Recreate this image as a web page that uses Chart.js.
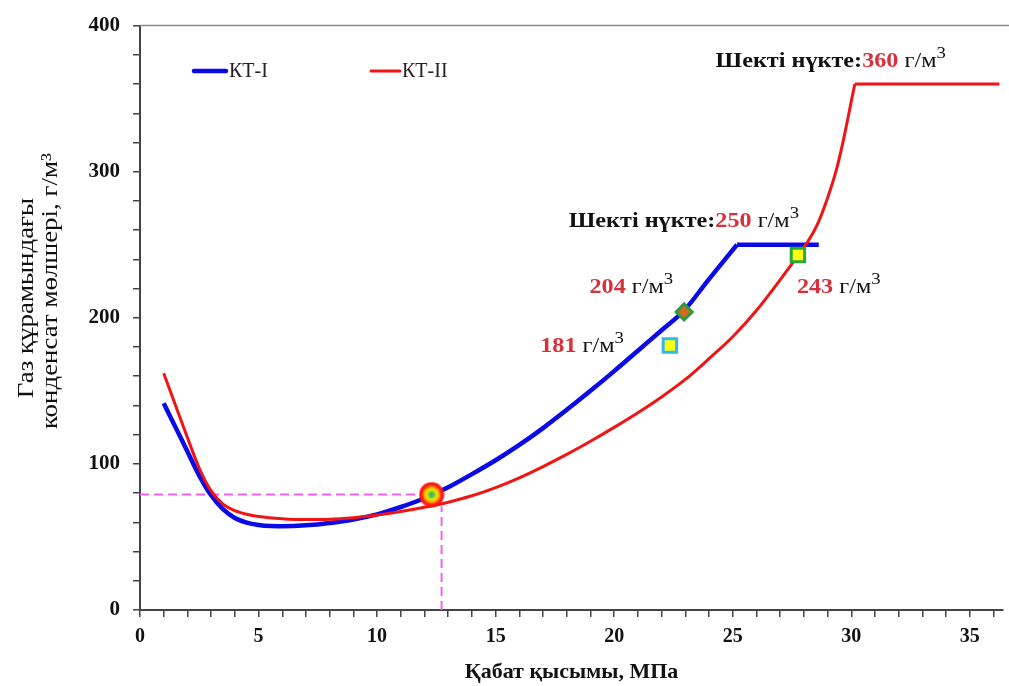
<!DOCTYPE html>
<html>
<head>
<meta charset="utf-8">
<script src="https://cdn.jsdelivr.net/npm/chart.js@4.4.0/dist/chart.umd.min.js"></script>
<style>
  html, body { margin: 0; padding: 0; background: #fff; }
  #wrap { width: 1009px; height: 686px; }
</style>
</head>
<body>
<div id="wrap"><canvas id="myChart" width="1009" height="686"></canvas></div>
<script>
// КТ-I: pressure (MPa) / condensate (g/m3)
const kt1X = [1, 1.5, 2, 2.5, 3, 3.5, 4, 4.5, 5, 5.5, 6, 7, 8, 9, 10, 11, 12, 13, 14, 15, 16, 17, 18, 19, 20, 21, 22, 22.95, 24, 25.18]
const kt1Y = [141.5, 125, 108.5, 92, 78.5, 69, 63, 59.8, 58.2, 57.5, 57.4, 58, 59.6, 62, 65.5, 70.5, 76.5, 84, 93, 102.5, 113, 124.5, 137, 150, 163.5, 177.5, 191.5, 205, 226.5, 250]
const kt1LimitX = [25.18, 28.63]
const kt1LimitY = [250, 250]

// КТ-II: red curve
const kt2X = [1, 1.5, 2, 2.5, 3, 3.5, 4, 4.5, 5, 6, 7, 8, 9, 10, 11, 12, 13, 14, 15, 16, 17, 18, 19, 20, 21, 22, 23, 24, 25, 26, 27, 27.75, 28.2, 28.6, 29, 29.4, 29.7, 29.95, 30.15]
const kt2Y = [162, 140, 118, 97, 81.5, 72.5, 68, 65.5, 64, 62.5, 61.9, 62.1, 63.2, 65, 67.4, 70.3, 73.8, 78.2, 83.8, 90.5, 98.2, 106.5, 115.5, 125, 135, 145.8, 157.8, 172, 187, 205, 226, 242.5, 253, 265, 282, 303, 324, 344, 360]
const kt2LimitX = [30.15, 36.25]
const kt2LimitY = [360, 360]

// crossing point and the marked values
const crossX = [12.3]
const crossY = [79]
const markX = [22.35, 22.95, 27.75]
const markY = [181, 204, 243]

// dashed guide lines
const guideHX = [0, 12.3]
const guideHY = [79, 79]
const guideVX = [12.72, 12.72]
const guideVY = [0, 71]

const xTickLabels = [0, 5, 10, 15, 20, 25, 30, 35]
const yTickLabels = [0, 100, 200, 300, 400]

const pts = (xs, ys) => xs.map((x, i) => ({x: x, y: ys[i]}))

const SERIF = '"Liberation Serif", "DejaVu Serif", serif'
const RED_TXT = '#d8303a'

// gradient dot for the crossing point
const dot = document.createElement('canvas')
dot.width = 26
dot.height = 26
{
    const c = dot.getContext('2d')
    const g = c.createRadialGradient(13, 13, 0, 13, 13, 13)
    g.addColorStop(0, '#40b0b0')
    g.addColorStop(0.18, '#58c040')
    g.addColorStop(0.38, '#e8f000')
    g.addColorStop(0.58, '#ffa000')
    g.addColorStop(0.74, '#ff2010')
    g.addColorStop(1, '#ff1010')
    c.fillStyle = g
    c.beginPath()
    c.arc(13, 13, 12.5, 0, Math.PI * 2)
    c.fill()
}

// text in pieces (bold, red, superscript), stretched a little sideways
function richText(ctx, parts, x, y, align, sx){
    let w = 0
    parts.forEach(p => {
        ctx.font = p.font
        p.w = ctx.measureText(p.text).width
        w += p.w
    })
    const start = align === 'right' ? x - w * sx : x
    ctx.save()
    ctx.translate(start, y)
    ctx.scale(sx, 1)
    ctx.textAlign = 'left'
    ctx.textBaseline = 'alphabetic'
    let cx = 0
    parts.forEach(p => {
        ctx.font = p.font
        ctx.fillStyle = p.color
        ctx.fillText(p.text, cx, -(p.rise || 0))
        cx += p.w
    })
    ctx.restore()
}

const unitParts = () => [
    {text: ' г/м', font: '22px ' + SERIF, color: '#111'},
    {text: '3', font: '17px ' + SERIF, color: '#111', rise: 9}
]

function stretchedText(ctx, text, x, y, rot, sx){
    ctx.save()
    ctx.translate(x, y)
    ctx.rotate(rot)
    ctx.scale(sx, 1)
    ctx.fillText(text, 0, 0)
    ctx.restore()
}

const decor = {
    id: 'decor',
    beforeDraw(chart){
        const ctx = chart.ctx
        ctx.save()
        ctx.fillStyle = '#fff'
        ctx.fillRect(0, 0, chart.width, chart.height)
        ctx.restore()
    },
    beforeDatasetsDraw(chart){
        const {ctx, chartArea} = chart
        ctx.save()
        ctx.strokeStyle = '#8c8c8c'
        ctx.lineWidth = 1.5
        ctx.beginPath()
        ctx.moveTo(chartArea.left, chartArea.top)
        ctx.lineTo(chart.width, chartArea.top)
        ctx.stroke()
        ctx.restore()
    },
    afterDatasetsDraw(chart){
        const ctx = chart.ctx
        const xs = chart.scales.x
        const ys = chart.scales.y
        ctx.save()

        // legend
        const items = [
            {ds: chart.data.datasets[1], x1: 194, x2: 226, tx: 229},
            {ds: chart.data.datasets[3], x1: 371, x2: 400, tx: 402}
        ]
        items.forEach(it => {
            ctx.strokeStyle = it.ds.borderColor
            ctx.lineWidth = it.ds.borderWidth
            ctx.lineCap = 'round'
            ctx.beginPath()
            ctx.moveTo(it.x1, 71)
            ctx.lineTo(it.x2, 71)
            ctx.stroke()
            ctx.fillStyle = '#222'
            ctx.font = '20px ' + SERIF
            ctx.textAlign = 'left'
            ctx.textBaseline = 'middle'
            ctx.fillText(it.ds.label, it.tx, 72)
        })

        // y axis title (two lines)
        ctx.fillStyle = '#111'
        ctx.font = '23px ' + SERIF
        ctx.textAlign = 'center'
        ctx.textBaseline = 'middle'
        stretchedText(ctx, 'Газ құрамындағы', 27, 298, -Math.PI / 2, 1.17)
        stretchedText(ctx, 'конденсат мөлшері, г/м³', 51, 291, -Math.PI / 2, 1.17)

        // limit points
        const limits = [
            {x: kt1LimitX[0], y: kt1LimitY[0], dx: 62, dy: -18},
            {x: kt2LimitX[0], y: kt2LimitY[0], dx: 91, dy: -17}
        ]
        limits.forEach(l => {
            const px = xs.getPixelForValue(l.x)
            const py = ys.getPixelForValue(l.y)
            richText(ctx, [
                {text: 'Шекті нүкте:', font: 'bold 22px ' + SERIF, color: '#111'},
                {text: String(l.y), font: 'bold 22px ' + SERIF, color: RED_TXT}
            ].concat(unitParts()), px + l.dx, py + l.dy, 'right', 1.1)
        })

        // marked values
        const offs = [
            {dx: -46, dy: 6, align: 'right'},
            {dx: -11, dy: -19, align: 'right'},
            {dx: -1, dy: 38, align: 'left'}
        ]
        markX.forEach((mx, i) => {
            const px = xs.getPixelForValue(mx)
            const py = ys.getPixelForValue(markY[i])
            richText(ctx, [
                {text: String(markY[i]), font: 'bold 22px ' + SERIF, color: RED_TXT}
            ].concat(unitParts()), px + offs[i].dx, py + offs[i].dy, offs[i].align, 1.1)
        })
        ctx.restore()
    }
}

const myChart = document.getElementById('myChart').getContext('2d')

const chart = new Chart(myChart, {
    type: 'scatter',
    data: {
        datasets: [
            {
                label: 'marks',
                data: pts(markX, markY),
                showLine: false,
                pointStyle: ['rect', 'rectRot', 'rect'],
                pointRadius: [9.5, 8, 9.5],
                pointBorderWidth: 3,
                pointBackgroundColor: ['#ffff10', '#d86a20', '#ffff10'],
                pointBorderColor: ['#30b8ee', '#2e9a40', '#28a838'],
                order: 0
            },
            {
                label: 'КТ-I',
                type: 'line',
                data: pts(kt1X, kt1Y),
                borderColor: '#0a0ae8',
                borderWidth: 4.5,
                pointRadius: 0,
                cubicInterpolationMode: 'monotone',
                order: 3
            },
            {
                label: 'КТ-I limit',
                type: 'line',
                data: pts(kt1LimitX, kt1LimitY),
                borderColor: '#0a0ae8',
                borderWidth: 4.5,
                pointRadius: 0,
                order: 3
            },
            {
                label: 'КТ-II',
                type: 'line',
                data: pts(kt2X, kt2Y),
                borderColor: '#f01414',
                borderWidth: 3,
                pointRadius: 0,
                cubicInterpolationMode: 'monotone',
                order: 2
            },
            {
                label: 'КТ-II limit',
                type: 'line',
                data: pts(kt2LimitX, kt2LimitY),
                borderColor: '#f01414',
                borderWidth: 3,
                pointRadius: 0,
                order: 2
            },
            {
                label: 'cross',
                data: pts(crossX, crossY),
                showLine: false,
                pointStyle: dot,
                order: 1
            },
            {
                label: 'guideH',
                type: 'line',
                data: pts(guideHX, guideHY),
                borderColor: '#f060f0',
                borderWidth: 2,
                borderDash: [9, 5],
                pointRadius: 0,
                order: 4
            },
            {
                label: 'guideV',
                type: 'line',
                data: pts(guideVX, guideVY),
                borderColor: '#f060f0',
                borderWidth: 2,
                borderDash: [9, 5],
                pointRadius: 0,
                order: 4
            }
        ]
    },
    options: {
        responsive: false,
        animation: false,
        devicePixelRatio: 1,
        events: [],
        layout: {
            autoPadding: false,
            padding: {top: 25, right: 6, left: 0, bottom: 0}
        },
        plugins: {
            legend: {display: false},
            tooltip: {enabled: false}
        },
        scales: {
            x: {
                type: 'linear',
                min: 0,
                max: 36.4,
                bounds: 'data',
                afterFit: (scale) => {
                    scale.height = 76
                    scale.paddingLeft = 0
                    scale.paddingRight = 0
                },
                ticks: {
                    stepSize: 1,
                    autoSkip: false,
                    maxRotation: 0,
                    includeBounds: false,
                    padding: 8,
                    color: '#111',
                    font: {family: SERIF, size: 20, weight: 'bold'},
                    callback: (v) => xTickLabels.includes(v) ? String(v) : ''
                },
                grid: {
                    drawOnChartArea: false,
                    drawTicks: true,
                    tickLength: 7,
                    color: '#444',
                    lineWidth: 1.5
                },
                border: {display: true, color: '#444', width: 2},
                title: {
                    display: true,
                    text: 'Қабат қысымы, МПа',
                    color: '#111',
                    font: {family: SERIF, size: 22, weight: 'bold'},
                    padding: {top: 0, bottom: 0}
                }
            },
            y: {
                type: 'linear',
                min: 0,
                max: 400,
                afterFit: (scale) => { scale.width = 140 },
                ticks: {
                    stepSize: 20,
                    autoSkip: false,
                    padding: 13,
                    color: '#111',
                    font: {family: SERIF, size: 21, weight: 'bold'},
                    callback: (v) => yTickLabels.includes(v) ? String(v) : ''
                },
                grid: {
                    drawOnChartArea: false,
                    drawTicks: true,
                    tickLength: 7,
                    color: '#444',
                    lineWidth: 1.5
                },
                border: {display: true, color: '#444', width: 2}
            }
        }
    },
    plugins: [decor]
})
</script>
</body>
</html>
